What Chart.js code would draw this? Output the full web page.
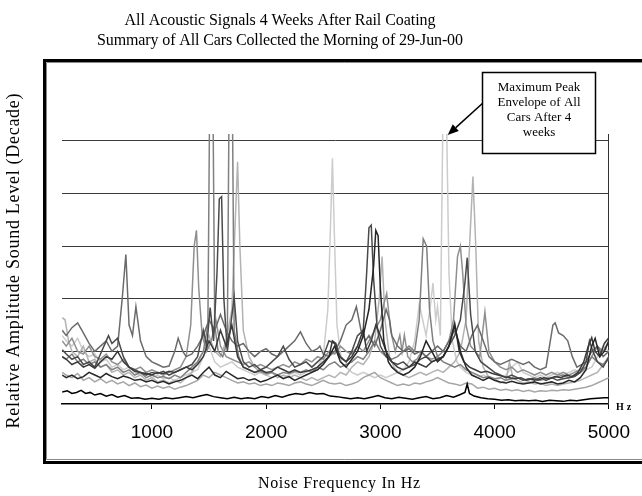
<!DOCTYPE html>
<html><head><meta charset="utf-8">
<script src="https://cdn.jsdelivr.net/npm/chart.js@4.4.0/dist/chart.umd.min.js"></script>
<style>html,body{margin:0;padding:0;background:#fff;}</style>
</head><body>
<canvas id="c" width="642" height="496"></canvas>
<script>
// ---- chart text ----
const titleLines = ["All Acoustic Signals 4 Weeks After Rail Coating", "Summary of All Cars Collected the Morning of 29-Jun-00"];
const xTitle = "Noise Frequency In Hz";
const yTitle = "Relative Amplitude Sound Level (Decade)";
const unitLabel = "Hz";
const noteLines = ["Maximum Peak", "Envelope of All", "Cars After 4", "weeks"];

// ---- axes ----
const xTicks = [1000, 2000, 3000, 4000, 5000];
const yGrid = [1, 2, 3, 4, 5];
const X_MIN = 213, X_MAX = 5000, Y_MAX = 5.13;
const notePeak = [3580, 5.13]; // arrow target (data units)

// ---- series: [frequency Hz, relative level (decade)] ----
const carA = [[215,0.23],[260,0.25],[300,0.2],[340,0.22],[380,0.26],[420,0.2],[460,0.22],[500,0.17],[550,0.2],[600,0.15],[650,0.18],[700,0.13],[760,0.16],[820,0.11],[880,0.12],[940,0.09],[1000,0.11],[1060,0.09],[1120,0.12],[1180,0.1],[1240,0.12],[1300,0.14],[1360,0.12],[1420,0.15],[1480,0.18],[1540,0.14],[1600,0.12],[1660,0.1],[1720,0.13],[1780,0.1],[1840,0.12],[1900,0.1],[1960,0.14],[2020,0.12],[2080,0.16],[2140,0.13],[2200,0.17],[2260,0.2],[2320,0.18],[2380,0.22],[2440,0.19],[2500,0.2],[2560,0.15],[2620,0.14],[2680,0.12],[2740,0.1],[2800,0.12],[2860,0.1],[2920,0.13],[2980,0.16],[3040,0.12],[3100,0.1],[3160,0.13],[3220,0.11],[3280,0.09],[3340,0.12],[3400,0.14],[3460,0.1],[3520,0.12],[3580,0.16],[3640,0.13],[3700,0.18],[3740,0.22],[3760,0.38],[3780,0.2],[3820,0.15],[3880,0.12],[3940,0.1],[4000,0.09],[4060,0.07],[4120,0.08],[4180,0.06],[4240,0.07],[4300,0.06],[4360,0.07],[4420,0.05],[4480,0.07],[4540,0.06],[4600,0.05],[4660,0.07],[4720,0.06],[4780,0.08],[4840,0.1],[4900,0.11],[4960,0.12],[5000,0.12]];
const carB = [[215,0.55],[250,0.5],[300,0.55],[350,0.48],[400,0.52],[450,0.6],[500,0.55],[550,0.5],[600,0.58],[650,0.52],[700,0.48],[750,0.53],[800,0.5],[850,0.45],[900,0.47],[950,0.42],[1000,0.45],[1050,0.4],[1100,0.43],[1150,0.38],[1200,0.42],[1250,0.45],[1300,0.5],[1350,0.55],[1400,0.48],[1450,0.6],[1500,0.7],[1550,0.55],[1600,0.5],[1650,0.62],[1700,0.55],[1750,0.48],[1800,0.5],[1850,0.45],[1900,0.48],[1950,0.42],[2000,0.45],[2050,0.5],[2100,0.55],[2150,0.48],[2200,0.52],[2250,0.45],[2300,0.5],[2350,0.55],[2400,0.6],[2450,0.65],[2500,0.75],[2550,0.9],[2600,1.1],[2650,0.8],[2700,0.7],[2750,0.85],[2800,1.0],[2850,1.3],[2900,1.8],[2940,2.6],[2960,3.3],[2980,3.2],[3000,2.2],[3030,1.2],[3070,0.8],[3100,0.7],[3150,0.6],[3200,0.55],[3250,0.6],[3300,0.7],[3350,0.9],[3400,1.2],[3450,1.0],[3500,0.8],[3550,0.9],[3600,1.1],[3650,1.5],[3700,1.0],[3750,0.7],[3800,0.55],[3850,0.5],[3900,0.45],[3950,0.5],[4000,0.45],[4050,0.42],[4100,0.4],[4150,0.43],[4200,0.4],[4250,0.38],[4300,0.4],[4350,0.42],[4400,0.38],[4450,0.4],[4500,0.42],[4550,0.38],[4600,0.4],[4650,0.45],[4700,0.42],[4750,0.5],[4800,0.65],[4850,1.1],[4880,1.25],[4920,0.9],[4960,1.0],[5000,1.2]];
const carC = [[215,1.03],[250,0.95],[300,0.85],[350,0.9],[400,0.75],[450,0.8],[500,0.7],[550,0.95],[600,1.2],[620,1.3],[650,1.15],[700,1.25],[750,0.9],[800,0.7],[850,0.65],[900,0.6],[950,0.55],[1000,0.6],[1050,0.58],[1100,0.62],[1150,0.55],[1200,0.6],[1250,0.65],[1300,0.7],[1350,0.75],[1400,0.9],[1450,1.4],[1480,1.1],[1510,1.83],[1540,1.2],[1570,2.5],[1590,3.9],[1610,3.94],[1630,2.0],[1660,1.0],[1690,1.5],[1720,2.03],[1750,1.2],[1800,0.8],[1850,0.7],[1900,0.75],[1950,0.65],[2000,0.7],[2050,0.8],[2100,0.9],[2150,1.1],[2200,0.85],[2250,0.7],[2300,0.75],[2350,0.8],[2400,0.7],[2450,0.8],[2500,0.9],[2550,1.2],[2600,1.15],[2650,0.9],[2700,0.8],[2750,1.0],[2800,1.3],[2850,1.4],[2880,2.5],[2900,3.35],[2920,3.4],[2940,2.4],[2970,1.5],[3000,1.1],[3050,0.9],[3100,0.8],[3150,0.75],[3200,0.8],[3250,0.7],[3300,0.75],[3350,0.85],[3400,0.9],[3450,0.8],[3500,0.85],[3550,0.9],[3600,1.1],[3650,1.3],[3700,1.6],[3740,2.3],[3760,2.78],[3790,1.7],[3830,1.0],[3880,0.8],[3940,0.7],[4000,0.6],[4050,0.55],[4100,0.5],[4150,0.55],[4200,0.5],[4250,0.45],[4300,0.48],[4350,0.45],[4400,0.5],[4450,0.45],[4500,0.5],[4550,0.45],[4600,0.48],[4650,0.5],[4700,0.52],[4750,0.6],[4800,0.8],[4830,1.2],[4860,1.0],[4900,0.8],[4950,0.7],[5000,0.9]];
const carD = [[215,1.4],[250,1.3],[300,1.45],[350,1.54],[400,1.35],[450,1.15],[500,1.0],[550,1.1],[600,1.2],[650,1.0],[700,1.1],[740,2.0],[772,2.84],[800,1.5],[830,1.3],[860,1.85],[900,1.2],[950,0.9],[1000,0.8],[1050,0.75],[1100,0.7],[1150,0.72],[1200,1.0],[1230,1.25],[1270,1.0],[1300,0.9],[1350,0.95],[1400,1.1],[1450,1.3],[1500,1.6],[1550,1.4],[1600,1.7],[1650,1.4],[1700,1.2],[1750,1.1],[1800,1.15],[1850,1.0],[1900,0.9],[1950,1.0],[2000,1.05],[2050,0.95],[2100,0.9],[2150,1.0],[2200,1.1],[2250,1.2],[2300,1.37],[2350,1.15],[2400,1.0],[2450,1.05],[2470,1.1],[2500,0.95],[2550,0.9],[2600,1.0],[2650,1.2],[2700,1.5],[2750,1.6],[2790,1.85],[2830,1.4],[2870,1.2],[2900,1.3],[2950,1.1],[3000,1.4],[3050,1.8],[3080,1.6],[3100,1.3],[3150,1.1],[3200,1.0],[3250,1.05],[3300,0.95],[3350,1.0],[3400,0.9],[3450,1.0],[3500,1.1],[3550,1.0],[3600,1.2],[3650,1.4],[3700,1.1],[3750,1.0],[3800,1.3],[3850,1.5],[3900,1.2],[3950,0.9],[4000,0.8],[4050,0.75],[4100,0.8],[4150,0.85],[4200,0.8],[4250,0.75],[4300,0.8],[4350,0.7],[4400,0.65],[4450,0.7],[4480,1.1],[4510,1.5],[4530,1.54],[4560,1.35],[4600,1.3],[4640,1.2],[4680,0.9],[4720,0.7],[4760,0.75],[4800,0.8],[4850,1.0],[4900,1.1],[4950,0.9],[5000,1.0]];
const carE = [[215,0.9],[250,0.85],[300,0.95],[350,0.8],[400,0.85],[450,0.75],[500,0.8],[550,0.7],[600,0.75],[650,0.65],[700,0.7],[750,0.6],[800,0.65],[850,0.55],[900,0.6],[950,0.5],[1000,0.55],[1050,0.5],[1100,0.52],[1150,0.48],[1200,0.55],[1250,0.5],[1300,0.6],[1350,0.7],[1400,0.8],[1450,1.0],[1490,1.5],[1505,5.6],[1535,5.6],[1550,1.5],[1580,1.0],[1620,0.9],[1660,1.2],[1675,5.6],[1705,5.6],[1720,1.4],[1760,0.9],[1800,0.7],[1850,0.65],[1900,0.6],[1950,0.62],[2000,0.58],[2050,0.6],[2100,0.55],[2150,0.6],[2200,0.58],[2250,0.62],[2300,0.6],[2350,0.65],[2400,0.6],[2450,0.7],[2500,0.65],[2550,0.75],[2600,0.8],[2650,0.7],[2700,0.75],[2750,0.8],[2800,0.9],[2850,0.85],[2900,1.0],[2950,1.2],[3000,1.0],[3050,0.9],[3100,0.85],[3150,0.9],[3200,1.0],[3250,1.1],[3300,1.0],[3340,1.6],[3375,3.14],[3405,3.0],[3430,1.8],[3460,1.2],[3500,0.9],[3550,0.8],[3600,0.75],[3650,0.7],[3700,0.75],[3750,0.65],[3800,0.6],[3850,0.55],[3900,0.5],[3950,0.52],[4000,0.48],[4050,0.5],[4100,0.45],[4150,0.48],[4200,0.5],[4250,0.45],[4300,0.47],[4350,0.5],[4400,0.45],[4450,0.48],[4500,0.5],[4550,0.52],[4600,0.55],[4650,0.5],[4700,0.55],[4750,0.6],[4800,0.7],[4850,0.9],[4900,0.8],[4950,0.75],[5000,0.85]];
const carF = [[215,1.2],[250,1.1],[300,1.25],[350,1.0],[400,0.95],[450,1.1],[500,0.9],[550,0.85],[600,0.95],[650,0.8],[700,0.75],[750,0.85],[800,0.7],[850,0.65],[900,0.7],[950,0.6],[1000,0.65],[1050,0.6],[1100,0.55],[1150,0.6],[1200,0.65],[1250,0.7],[1300,0.9],[1340,1.5],[1370,3.0],[1390,3.3],[1410,2.2],[1440,1.3],[1480,1.0],[1520,1.2],[1560,1.6],[1600,1.1],[1650,0.9],[1700,0.85],[1750,0.8],[1800,0.75],[1850,0.8],[1900,0.7],[1950,0.75],[2000,0.7],[2050,0.65],[2100,0.7],[2150,0.75],[2200,0.7],[2250,0.8],[2300,0.75],[2350,0.85],[2400,0.8],[2450,0.9],[2500,0.85],[2550,1.0],[2600,0.95],[2650,1.1],[2700,1.0],[2750,0.95],[2800,1.1],[2850,1.0],[2900,1.2],[2950,1.4],[3000,1.6],[3030,1.9],[3055,2.1],[3090,1.4],[3130,1.0],[3170,1.31],[3190,1.0],[3210,1.31],[3240,0.9],[3280,0.8],[3320,0.85],[3360,1.0],[3400,0.9],[3450,0.85],[3500,0.9],[3550,1.0],[3600,1.2],[3640,1.6],[3675,2.8],[3700,3.0],[3720,2.5],[3750,1.5],[3790,1.1],[3830,1.0],[3870,0.9],[3915,1.75],[3950,1.0],[4000,0.8],[4050,0.7],[4100,0.65],[4150,0.7],[4200,0.6],[4250,0.65],[4300,0.6],[4350,0.55],[4400,0.6],[4450,0.55],[4500,0.6],[4550,0.55],[4600,0.6],[4650,0.55],[4700,0.6],[4750,0.65],[4800,0.7],[4850,0.9],[4900,1.1],[4950,1.0],[5000,1.2]];
const carG = [[215,1.64],[240,1.6],[270,1.2],[300,1.0],[350,0.9],[400,1.1],[450,0.8],[500,0.85],[550,0.7],[600,0.75],[650,0.6],[700,0.65],[750,0.55],[800,0.6],[850,0.5],[900,0.55],[950,0.45],[1000,0.5],[1050,0.42],[1100,0.45],[1150,0.4],[1200,0.45],[1250,0.4],[1300,0.5],[1350,0.6],[1400,0.8],[1450,1.0],[1500,1.3],[1550,1.0],[1600,0.9],[1650,1.2],[1700,1.8],[1730,3.5],[1750,4.6],[1770,3.0],[1800,1.4],[1850,0.9],[1900,0.7],[1950,0.6],[2000,0.55],[2050,0.6],[2100,0.5],[2150,0.55],[2200,0.5],[2250,0.55],[2300,0.5],[2350,0.45],[2400,0.5],[2450,0.45],[2500,0.5],[2550,0.55],[2600,0.5],[2650,0.6],[2700,0.55],[2750,0.7],[2800,0.8],[2850,0.75],[2900,0.9],[2950,1.2],[2990,2.0],[3015,2.8],[3040,1.6],[3080,0.9],[3120,0.7],[3160,0.6],[3200,0.55],[3250,0.5],[3300,0.55],[3350,0.6],[3400,0.55],[3450,0.6],[3500,0.65],[3550,0.6],[3600,0.7],[3650,0.8],[3700,1.0],[3750,1.6],[3785,3.2],[3810,4.32],[3835,3.0],[3860,1.2],[3900,0.7],[3950,0.5],[4000,0.45],[4050,0.4],[4100,0.45],[4130,0.8],[4160,0.5],[4200,0.45],[4250,0.4],[4300,0.42],[4350,0.38],[4400,0.4],[4450,0.35],[4500,0.38],[4550,0.35],[4600,0.38],[4650,0.4],[4700,0.42],[4750,0.45],[4800,0.5],[4850,0.55],[4900,0.6],[4950,0.75],[5000,0.9]];
const carH = [[215,1.3],[250,1.2],[300,1.1],[350,1.25],[400,1.0],[450,0.9],[500,0.95],[550,0.8],[600,0.85],[650,0.7],[700,0.75],[750,0.65],[800,0.7],[850,0.6],[900,0.55],[950,0.6],[1000,0.5],[1050,0.55],[1100,0.48],[1150,0.5],[1200,0.45],[1250,0.5],[1300,0.55],[1350,0.6],[1400,0.65],[1450,0.9],[1500,1.1],[1550,0.8],[1600,0.7],[1650,0.75],[1700,0.8],[1750,0.7],[1800,0.65],[1850,0.6],[1900,0.55],[1950,0.6],[2000,0.55],[2050,0.5],[2100,0.55],[2150,0.5],[2200,0.55],[2250,0.6],[2300,0.55],[2350,0.6],[2400,0.65],[2450,0.7],[2500,0.9],[2540,1.8],[2565,3.5],[2580,4.67],[2600,3.0],[2620,1.5],[2660,0.8],[2700,0.7],[2750,0.6],[2800,0.55],[2850,0.6],[2900,0.55],[2950,0.5],[3000,0.55],[3050,0.5],[3100,0.55],[3150,0.6],[3200,0.65],[3250,0.8],[3300,1.2],[3340,1.9],[3370,1.6],[3400,1.3],[3440,1.9],[3460,2.3],[3485,1.6],[3500,1.85],[3525,1.3],[3548,5.6],[3578,5.6],[3600,2.5],[3630,1.2],[3670,0.8],[3700,0.7],[3750,0.6],[3800,0.55],[3850,0.5],[3900,0.55],[3950,0.5],[4000,0.45],[4050,0.5],[4100,0.55],[4150,0.7],[4200,0.8],[4250,0.6],[4300,0.55],[4350,0.5],[4400,0.55],[4450,0.5],[4500,0.55],[4550,0.6],[4600,0.55],[4650,0.6],[4700,0.65],[4750,0.6],[4800,0.65],[4850,0.7],[4900,0.9],[4950,1.1],[5000,1.0]];
const carI = [[215,0.6],[250,0.55],[300,0.5],[350,0.58],[400,0.45],[450,0.5],[500,0.42],[550,0.48],[600,0.4],[650,0.45],[700,0.38],[750,0.42],[800,0.35],[850,0.4],[900,0.33],[950,0.36],[1000,0.3],[1050,0.34],[1100,0.3],[1150,0.33],[1200,0.28],[1250,0.32],[1300,0.35],[1350,0.4],[1400,0.45],[1450,0.55],[1500,0.5],[1550,0.6],[1600,0.55],[1650,0.5],[1700,0.45],[1750,0.4],[1800,0.42],[1850,0.38],[1900,0.4],[1950,0.35],[2000,0.38],[2050,0.35],[2100,0.4],[2150,0.38],[2200,0.35],[2250,0.4],[2300,0.42],[2350,0.38],[2400,0.35],[2450,0.4],[2500,0.45],[2550,0.4],[2600,0.38],[2650,0.4],[2700,0.35],[2750,0.38],[2800,0.42],[2850,0.5],[2900,0.55],[2950,0.6],[3000,0.5],[3050,0.45],[3100,0.4],[3150,0.35],[3200,0.38],[3250,0.35],[3300,0.4],[3350,0.38],[3400,0.42],[3450,0.45],[3500,0.5],[3550,0.45],[3600,0.4],[3650,0.38],[3700,0.35],[3750,0.4],[3800,0.38],[3850,0.3],[3900,0.32],[3950,0.28],[4000,0.3],[4050,0.26],[4100,0.28],[4150,0.25],[4200,0.27],[4250,0.24],[4300,0.26],[4350,0.23],[4400,0.25],[4450,0.24],[4500,0.26],[4550,0.25],[4600,0.27],[4650,0.26],[4700,0.28],[4750,0.3],[4800,0.32],[4850,0.35],[4900,0.4],[4950,0.45],[5000,0.5]];
const carJ = [[215,0.9],[250,0.85],[300,0.75],[350,0.8],[400,0.7],[450,0.75],[500,0.68],[550,0.8],[600,0.9],[650,0.85],[700,1.0],[750,0.8],[800,0.7],[850,0.62],[900,0.6],[950,0.58],[1000,0.55],[1050,0.6],[1100,0.58],[1150,0.62],[1200,0.6],[1250,0.65],[1300,0.7],[1350,0.65],[1400,0.75],[1450,0.9],[1500,1.2],[1550,1.0],[1600,1.4],[1650,1.1],[1700,1.5],[1750,0.9],[1800,0.7],[1850,0.65],[1900,0.6],[1950,0.65],[2000,0.6],[2050,0.62],[2100,0.7],[2150,0.65],[2200,0.6],[2250,0.65],[2300,0.6],[2350,0.62],[2400,0.65],[2450,0.7],[2500,0.8],[2550,0.9],[2580,1.2],[2610,1.15],[2640,0.9],[2700,0.8],[2750,0.9],[2800,1.1],[2850,1.41],[2880,1.0],[2920,1.2],[2960,1.5],[3000,1.3],[3050,1.0],[3100,0.8],[3150,0.7],[3200,0.65],[3250,0.7],[3300,0.8],[3350,0.75],[3400,0.7],[3450,0.8],[3500,0.85],[3550,0.9],[3600,1.1],[3650,1.54],[3690,1.0],[3730,0.8],[3780,0.7],[3830,0.65],[3880,0.6],[3930,0.62],[3980,0.58],[4030,0.55],[4080,0.52],[4130,0.5],[4180,0.48],[4230,0.5],[4280,0.45],[4330,0.48],[4380,0.45],[4430,0.5],[4480,0.48],[4530,0.52],[4580,0.5],[4630,0.55],[4680,0.52],[4730,0.6],[4780,0.8],[4820,1.1],[4850,1.26],[4880,1.0],[4920,0.9],[4960,1.15],[5000,1.26]];

const seriesList = [
  {name:"Car A", pts:carA, color:"#000000"},
  {name:"Car B", pts:carB, color:"#262626"},
  {name:"Car J", pts:carJ, color:"#3a3a3a"},
  {name:"Car C", pts:carC, color:"#4a4a4a"},
  {name:"Car D", pts:carD, color:"#6b6b6b"},
  {name:"Car E", pts:carE, color:"#808080"},
  {name:"Car F", pts:carF, color:"#8f8f8f"},
  {name:"Car I", pts:carI, color:"#a6a6a6"},
  {name:"Car G", pts:carG, color:"#b3b3b3"},
  {name:"Car H", pts:carH, color:"#cccccc"}
];

const SERIF = '"Liberation Serif", "Times New Roman", serif';
const SANS = '"Liberation Sans", Arial, sans-serif';

function fitText(ctx, text, cx, cy, size, family, target, weight) {
  ctx.font = (weight ? weight + ' ' : '') + size + 'px ' + family;
  ctx.letterSpacing = '0px';
  const w = ctx.measureText(text).width;
  const ls = target ? (target - w) / Math.max(1, text.length - 1) : 0;
  ctx.letterSpacing = ls + 'px';
  ctx.textAlign = 'center';
  ctx.textBaseline = 'middle';
  ctx.fillText(text, cx + ls / 2, cy);
  ctx.letterSpacing = '0px';
}

const decor = {
  id: 'decor',
  beforeDraw(chart) {
    const ctx = chart.ctx;
    ctx.save();
    ctx.fillStyle = '#fff';
    ctx.fillRect(0, 0, chart.width, chart.height);
    ctx.restore();
  },
  afterDraw(chart) {
    const ctx = chart.ctx;
    const xs = chart.scales.x, ys = chart.scales.y;
    ctx.save();
    // outer frame
    ctx.strokeStyle = '#000';
    ctx.lineWidth = 3;
    ctx.beginPath();
    ctx.moveTo(660, 60.5); ctx.lineTo(44.5, 60.5); ctx.lineTo(44.5, 462.5); ctx.lineTo(660, 462.5);
    ctx.stroke();
    ctx.strokeStyle = '#8a8a8a';
    ctx.lineWidth = 1;
    ctx.beginPath();
    ctx.moveTo(660, 62.5); ctx.lineTo(46.5, 62.5); ctx.lineTo(46.5, 459.5); ctx.lineTo(660, 459.5);
    ctx.stroke();

    ctx.fillStyle = '#000';
    // titles
    fitText(ctx, titleLines[0], 280, 21, 16, SERIF, 311);
    fitText(ctx, titleLines[1], 280, 41, 16, SERIF, 366);
    fitText(ctx, xTitle, 339, 484, 16, SERIF, 162);
    ctx.save();
    ctx.translate(14, 261);
    ctx.rotate(-Math.PI / 2);
    fitText(ctx, yTitle, 0, 0, 18, SERIF, 335);
    ctx.restore();
    // unit label
    ctx.font = 'bold 10px ' + SERIF;
    ctx.letterSpacing = '3px';
    ctx.textAlign = 'left';
    ctx.textBaseline = 'middle';
    ctx.fillText(unitLabel, 616, 407);
    ctx.letterSpacing = '0px';

    // annotation arrow
    const tx = xs.getPixelForValue(notePeak[0]) + 1;
    const ty = ys.getPixelForValue(notePeak[1]) + 1;
    const sx = 484, sy = 102;
    const ang = Math.atan2(ty - sy, tx - sx);
    const hl = 11, hw = 4.5;
    const bx = tx - hl * Math.cos(ang), by = ty - hl * Math.sin(ang);
    ctx.strokeStyle = '#000';
    ctx.lineWidth = 1.5;
    ctx.beginPath(); ctx.moveTo(sx, sy); ctx.lineTo(bx, by); ctx.stroke();
    ctx.beginPath();
    ctx.moveTo(tx, ty);
    ctx.lineTo(bx + hw * Math.sin(ang), by - hw * Math.cos(ang));
    ctx.lineTo(bx - hw * Math.sin(ang), by + hw * Math.cos(ang));
    ctx.closePath(); ctx.fill();
    // annotation box
    ctx.fillStyle = '#fff';
    ctx.fillRect(482.5, 72.5, 113, 81);
    ctx.lineWidth = 1.5;
    ctx.strokeRect(482.5, 72.5, 113, 81);
    ctx.fillStyle = '#000';
    ctx.font = '13px ' + SERIF;
    ctx.textAlign = 'center';
    ctx.textBaseline = 'middle';
    noteLines.forEach((t, i) => ctx.fillText(t, 539, 88 + i * 15));
    ctx.restore();
  }
};

const datasets = seriesList.map(s => ({
  label: s.name,
  data: s.pts.map(p => ({x: p[0], y: p[1]})),
  borderColor: s.color,
  backgroundColor: s.color,
  borderWidth: 1.5,
  pointRadius: 0,
  tension: 0,
  fill: false
}));

new Chart(document.getElementById('c').getContext('2d'), {
  type: 'line',
  data: {datasets},
  options: {
    responsive: false,
    animation: false,
    events: [],
    layout: {padding: {top: 134, left: 0, right: 0, bottom: 0}},
    plugins: {legend: {display: false}, title: {display: false}, tooltip: {enabled: false}},
    scales: {
      x: {
        type: 'linear', min: X_MIN, max: X_MAX,
        afterBuildTicks: s => { s.ticks = xTicks.map(v => ({value: v})); },
        afterFit: s => { s.height = 92; },
        grid: {drawOnChartArea: false, color: '#000', tickLength: 5, lineWidth: 1},
        border: {color: '#000', width: 1.5},
        ticks: {font: {family: SANS, size: 19}, color: '#000', padding: 12, maxRotation: 0, autoSkip: false, callback: v => String(v)}
      },
      y: {
        min: 0, max: Y_MAX,
        afterBuildTicks: s => { s.ticks = yGrid.map(v => ({value: v})); },
        afterFit: s => { s.width = 62; },
        ticks: {display: false},
        grid: {color: '#3a3a3a', lineWidth: 1, drawTicks: false},
        border: {display: false}
      },
      y2: {
        position: 'right', min: 0, max: Y_MAX,
        afterFit: s => { s.width = 33; },
        ticks: {display: false},
        grid: {display: false, drawTicks: false},
        border: {display: true, color: '#333', width: 1}
      }
    }
  },
  plugins: [decor]
});
</script>
</body></html>
